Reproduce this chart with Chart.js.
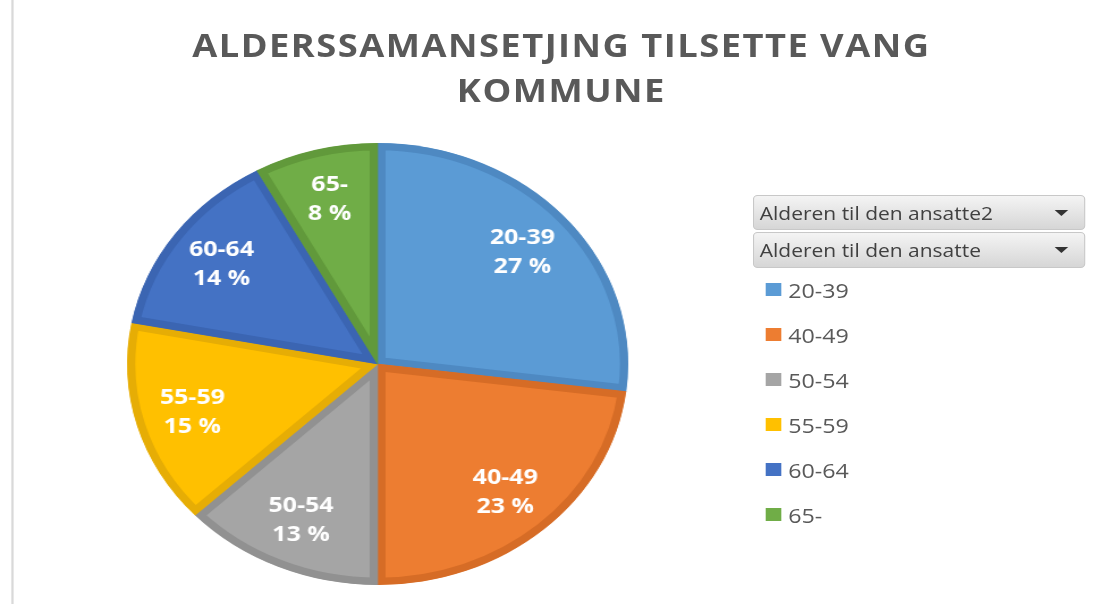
<!DOCTYPE html>
<html>
<head>
<meta charset="utf-8">
<script src="https://cdn.jsdelivr.net/npm/chart.js@4/dist/chart.umd.min.js"></script>
<style>
  html, body { margin: 0; padding: 0; background: #fff; }
  body { width: 1094px; height: 604px; overflow: hidden; position: relative; }
  /* the reference is a horizontally stretched screenshot, so the whole board is scaled in x */
  #board { position: absolute; left: 0; top: 0; width: 965px; height: 604px; transform: scaleX(1.134); transform-origin: 0 0; }
  #edge { position: absolute; left: 10px; top: 0; width: 2px; height: 604px; background: #d9d9d9; }
  #title { position: absolute; left: 0; width: 990px; top: 22px; text-align: center; font: bold 32px/45px "Open Sans", sans-serif; color: #595959; letter-spacing: 1.3px; }
  #pie { position: absolute; left: 0; top: 0; }
  .btn { position: absolute; left: 664px; width: 293px; border: 1px solid #c8c8c8; border-radius: 4px; background: linear-gradient(#f4f4f4, #d6d6d6); font: 18.5px "Open Sans", sans-serif; color: #404040; box-sizing: border-box; padding-left: 5px; white-space: nowrap; }
  .btn::after { content: ""; position: absolute; right: 14px; top: 50%; margin-top: -3px; border-left: 6px solid transparent; border-right: 6px solid transparent; border-top: 6px solid #333; }
  #legend { position: absolute; left: 675px; top: 267px; margin: 0; padding: 0; list-style: none; font: 20.5px "Open Sans", sans-serif; color: #595959; }
  #legend li { height: 45px; display: flex; align-items: center; }
  #legend .sw { width: 14px; height: 13px; margin-right: 6px; }
</style>
</head>
<body>
<div id="board">
  <div id="edge"></div>
  <div id="title">ALDERSSAMANSETJING TILSETTE VANG<br>KOMMUNE</div>
  <canvas id="pie" width="666" height="604"></canvas>
  <div class="btn" style="top:195px;height:35px;line-height:33px;">Alderen til den ansatte2</div>
  <div class="btn" style="top:232px;height:36px;line-height:34px;">Alderen til den ansatte</div>
  <ul id="legend"></ul>
</div>
<script>
// Aldersgrupper og prosentdel tilsette (les av figuren)
const labels = ["20-39", "40-49", "50-54", "55-59", "60-64", "65-"];
const shares = [27, 23, 13, 15, 14, 8];
const fills = ["#5b9bd5", "#ed7d31", "#a5a5a5", "#ffc000", "#4472c4", "#70ad47"];
const edges = ["#4e89c2", "#d66c26", "#919191", "#e6ad05", "#3b65b2", "#61993b"];

// Etikettar inne i sektorane: namn + prosent, som i Excel
const sliceLabels = {
  id: "sliceLabels",
  afterDatasetsDraw(chart) {
    const { ctx } = chart;
    const meta = chart.getDatasetMeta(0);
    ctx.save();
    ctx.fillStyle = "#ffffff";
    ctx.font = "bold 22px 'Open Sans', sans-serif";
    ctx.textAlign = "center";
    ctx.textBaseline = "middle";
    meta.data.forEach((arc, i) => {
      const p = arc.getProps(["x", "y", "startAngle", "endAngle", "outerRadius"], true);
      const mid = (p.startAngle + p.endAngle) / 2;
      const r = p.outerRadius * 0.77;
      const x = p.x + Math.cos(mid) * r;
      const y = p.y + Math.sin(mid) * r;
      ctx.fillText(labels[i], x, y - 14);
      ctx.fillText(shares[i] + " %", x, y + 15);
    });
    ctx.restore();
  },
};

new Chart(document.getElementById("pie"), {
  type: "pie",
  data: {
    labels,
    datasets: [
      {
        data: shares,
        backgroundColor: fills,
        borderColor: edges,
        borderWidth: 7,
        borderAlign: "inner",
        hoverOffset: 0,
        offset: 0,
      },
    ],
  },
  options: {
    responsive: false,
    animation: false,
    layout: { padding: { top: 143, bottom: 19, left: 0, right: 0 } },
    plugins: { legend: { display: false }, tooltip: { enabled: false }, title: { display: false } },
  },
  plugins: [sliceLabels],
});

// Forklaring bygd frå same lister
const ul = document.getElementById("legend");
labels.forEach((name, i) => {
  const li = document.createElement("li");
  const sw = document.createElement("span");
  sw.className = "sw";
  sw.style.background = fills[i];
  const t = document.createElement("span");
  t.textContent = name;
  li.append(sw, t);
  ul.appendChild(li);
});
</script>
</body>
</html>
